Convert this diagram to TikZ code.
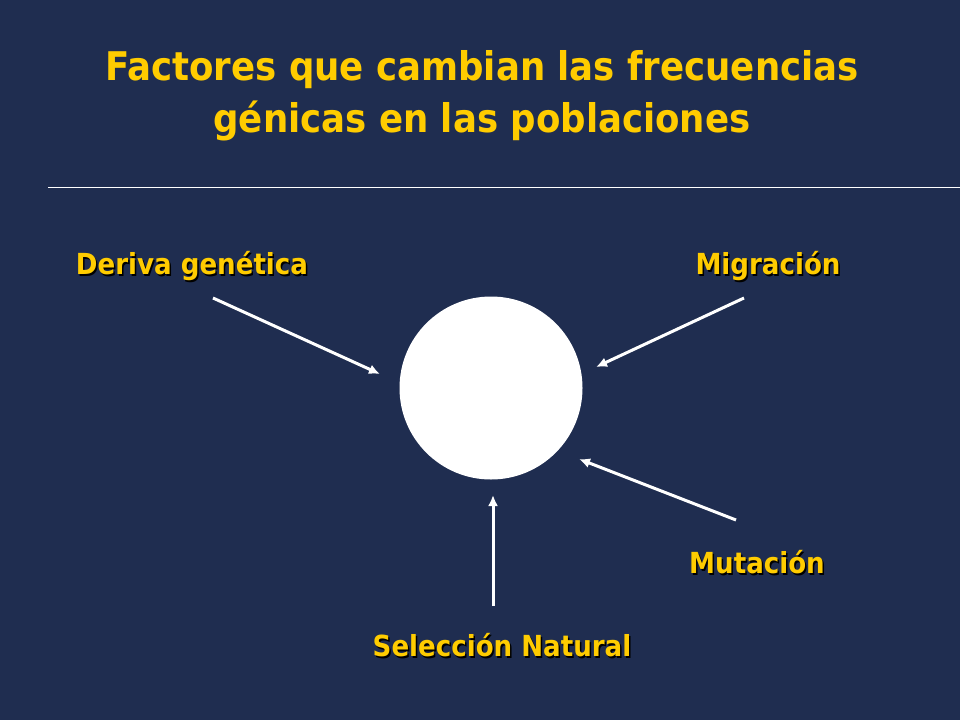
\documentclass[tikz,border=0pt]{standalone}
\usepackage{fontspec}
\setmainfont{DejaVu Sans}[FakeStretch=0.9]
\usetikzlibrary{arrows.meta}
\definecolor{slideblue}{RGB}{31,45,80}
\definecolor{goldtext}{RGB}{255,204,0}
\newcommand{\shadowed}[1]{\makebox[0pt][l]{\hspace{1.5pt}\raisebox{-1.5pt}{\textcolor{black}{#1}}}#1}

\begin{document}
\begin{tikzpicture}[x=1pt, y=-1pt,
	factor/.style={text=goldtext, font=\fontsize{29}{34}\selectfont\bfseries, inner sep=0pt},
	flecha/.style={white, line width=3pt, -{Latex[length=11pt,width=10pt]}}]

	% slide background
	\fill[slideblue] (0,0) rectangle (960,720);
	\useasboundingbox (0,0) rectangle (960,720);

	% title and rule
	\node[text=goldtext, font=\fontsize{39.5}{52}\selectfont\bfseries, align=center] (titulo) at (482,96) {Factores que cambian las frecuencias\\génicas en las poblaciones};
	\coordinate (reglaIzq) at (48,187);
	\coordinate (reglaDer) at (960,187);
	\draw[white, line width=1pt] (reglaIzq) -- (reglaDer);

	% population
	\node[circle, fill=white, minimum size=183pt, inner sep=0pt] (poblacion) at (491,388) {};

	% factors
	\node[factor] (deriva) at (192,267) {\shadowed{Deriva genética}};
	\node[factor] (migracion) at (768,267) {\shadowed{Migración}};
	\node[factor] (mutacion) at (757,563) {\shadowed{Mutación}};
	\node[factor] (seleccion) at (502,646) {\shadowed{Selección Natural}};

	% arrow ends
	\coordinate (derivaA) at (213,298);
	\coordinate (derivaB) at (380,374);
	\coordinate (migracionA) at (744,298);
	\coordinate (migracionB) at (596,367);
	\coordinate (mutacionA) at (736,520);
	\coordinate (mutacionB) at (579,459);
	\coordinate (seleccionA) at (493,606);
	\coordinate (seleccionB) at (493,495);

	\draw[flecha] (derivaA) -- (derivaB);
	\draw[flecha] (migracionA) -- (migracionB);
	\draw[flecha] (mutacionA) -- (mutacionB);
	\draw[flecha] (seleccionA) -- (seleccionB);

\end{tikzpicture}
\end{document}
